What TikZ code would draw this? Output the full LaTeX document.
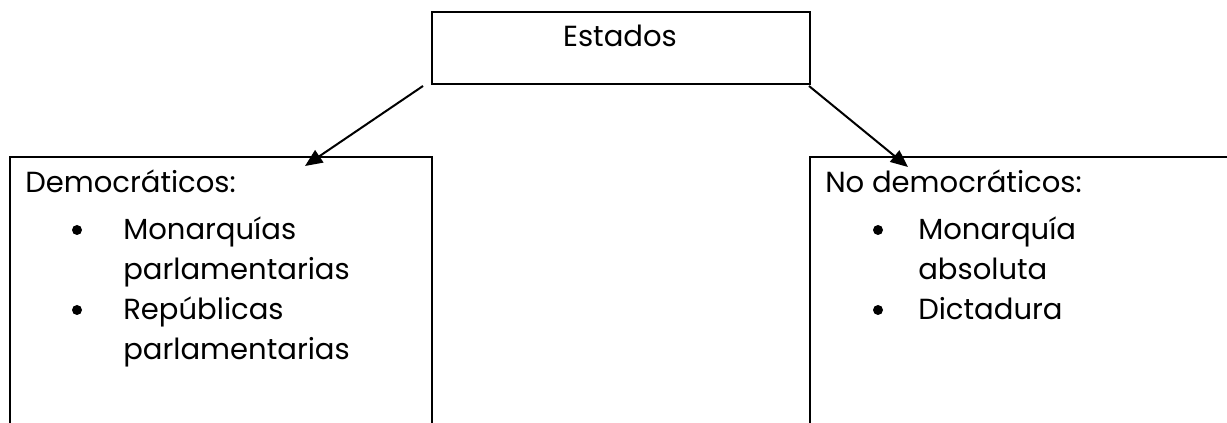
\documentclass[tikz,border=0pt]{standalone}
\usepackage{fontspec}
\setmainfont{Poppins}
\usetikzlibrary{arrows.meta}
\tikzset{
  boxline/.style={line width=1.5pt},
  txt/.style={anchor=base west, inner sep=0pt, font=\fontsize{21.8}{26}\selectfont},
  bul/.style={circle, fill=black, inner sep=0pt, minimum size=7.5pt},
  conn/.style={line width=1.5pt, -{Triangle[length=13pt,width=11pt]}}
}
\begin{document}
\begin{tikzpicture}[x=0.75pt,y=-0.75pt]
\useasboundingbox (0,0) rectangle (1227,423);
% top box
\node[boxline, draw, minimum width=378*0.75pt, minimum height=72*0.75pt, inner sep=0pt] (estados) at (621,48) {};
\node[txt, anchor=base] (estadostxt) at (620,47) {Estados};
% left box
\draw[boxline] (10,424) -- (10,157) -- (432,157) -- (432,424);
\coordinate (ltip) at (305,166);
\coordinate (lstart) at (423,86);
\node[txt] (dem) at (25,193) {Democráticos:};
\node[bul] (b1) at (77,230) {};
\node[txt] (m1) at (123,240) {Monarquías};
\node[txt] (p1) at (123,280) {parlamentarias};
\node[bul] (b2) at (77,310) {};
\node[txt] (r1) at (123,320) {Repúblicas};
\node[txt] (p2) at (123,360) {parlamentarias};
% right box
\draw[boxline] (810,424) -- (810,157) -- (1230,157);
\coordinate (rtip) at (908,167);
\coordinate (rstart) at (809,86);
\node[txt] (nodem) at (825,193) {No democráticos:};
\node[bul] (b3) at (878,230) {};
\node[txt] (m2) at (918,240) {Monarquía};
\node[txt] (a2) at (918,280) {absoluta};
\node[bul] (b4) at (878,310) {};
\node[txt] (d2) at (918,320) {Dictadura};
% connectors
\draw[conn] (lstart) -- (ltip);
\draw[conn] (rstart) -- (rtip);
\end{tikzpicture}
\end{document}
